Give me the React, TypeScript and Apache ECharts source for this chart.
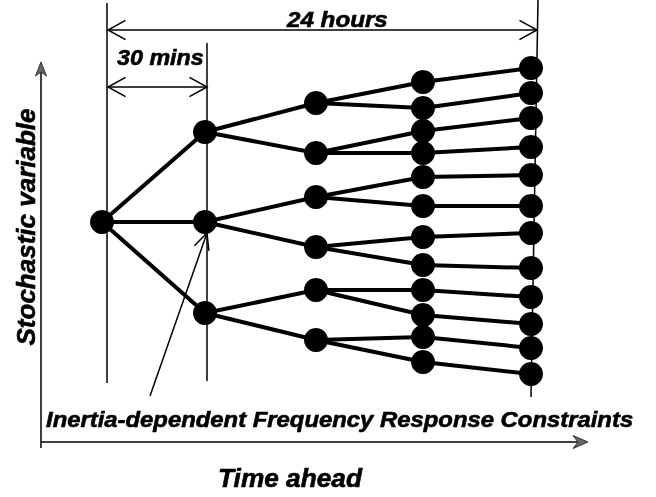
import React, { useEffect, useRef } from "react";
import * as echarts from "echarts";

// Time position of each decision stage (arbitrary time units)
const stageTimes = [0, 103, 214, 321, 429];
// Stochastic variable value at each node, per stage
const stage0 = [0];
const stage1 = [90, 0, -91];
const stage2 = [119, 69, 25, -25, -68, -118];
const stage3 = [140, 114, 91, 69, 45, 16, -15, -43, -68, -93, -115, -140];
const stage4 = [154, 129, 104, 75, 47, 16, -11, -46, -75, -102, -126, -152];
// Parent index (in previous stage) of each node
const parents1 = [0, 0, 0];
const parents2 = [0, 0, 1, 1, 2, 2];
const parents3 = [0, 0, 1, 1, 2, 2, 3, 3, 4, 4, 5, 5];
const parents4 = [0, 1, 2, 3, 4, 5, 6, 7, 8, 9, 10, 11];

const stages = [stage0, stage1, stage2, stage3, stage4];
const parents = [[], parents1, parents2, parents3, parents4];

const FONT = "'Liberation Sans', Arial, Helvetica, sans-serif";

function vArrowHead(tipX: number, tipY: number, fromX: number, fromY: number, len: number, ang: number) {
  const dx = fromX - tipX;
  const dy = fromY - tipY;
  const l = Math.hypot(dx, dy);
  const bx = dx / l;
  const by = dy / l;
  const c = Math.cos(ang);
  const s = Math.sin(ang);
  const w1 = [tipX + len * (bx * c - by * s), tipY + len * (bx * s + by * c)];
  const w2 = [tipX + len * (bx * c + by * s), tipY + len * (-bx * s + by * c)];
  return [w1, [tipX, tipY], w2];
}

export default function App() {
  const ref = useRef<HTMLDivElement>(null);
  useEffect(() => {
    if (!ref.current) return;
    const chart = echarts.init(ref.current, null, { renderer: "svg" });

    const nodes: number[][] = [];
    const edges: { coords: number[][] }[] = [];
    stages.forEach((vals, si) => {
      vals.forEach((v, i) => {
        nodes.push([stageTimes[si], v]);
        if (si > 0) {
          const p = stages[si - 1][parents[si][i]];
          edges.push({ coords: [[stageTimes[si - 1], p], [stageTimes[si], v]] });
        }
      });
    });

    const thin = { stroke: "#000", lineWidth: 1.5, fill: "none" };
    const line = (x1: number, y1: number, x2: number, y2: number) => ({
      type: "line",
      shape: { x1, y1, x2, y2 },
      style: thin,
      silent: true,
    });
    const poly = (pts: number[][]) => ({ type: "polyline", shape: { points: pts }, style: thin, silent: true });
    const text = (t: string, x: number, y: number, size: number, opts: any = {}) => ({
      type: "text",
      x,
      y,
      rotation: opts.rotation || 0,
      scaleX: opts.scaleX || 1,
      scaleY: opts.scaleY || 1,
      silent: true,
      style: {
        text: t,
        x: 0,
        y: 0,
        fill: "#000",
        stroke: "#000",
        lineWidth: 0.6,
        font: `italic bold ${size}px ${FONT}`,
        align: opts.align || "left",
        verticalAlign: "middle",
      },
    });

    chart.setOption({
      animation: false,
      grid: { left: 0, top: 0, right: 0, bottom: 0 },
      xAxis: { type: "value", min: -102, max: 554, show: false },
      yAxis: { type: "value", min: -275, max: 222, show: false },
      series: [
        {
          type: "lines",
          coordinateSystem: "cartesian2d",
          silent: true,
          lineStyle: { color: "#000", width: 4, opacity: 1 },
          data: edges,
          z: 2,
        },
        {
          type: "scatter",
          silent: true,
          symbol: "circle",
          symbolSize: 24,
          itemStyle: { color: "#000", opacity: 1 },
          data: nodes,
          z: 3,
        },
      ],
      graphic: [
        // stage boundary guide lines
        line(107, 3, 107, 383),
        line(207, 43, 207, 381),
        line(538, 0, 531, 397),
        // 24 hours dimension arrow
        line(108, 30, 537, 30),
        poly(vArrowHead(108, 30, 200, 30, 20, 0.5)),
        poly(vArrowHead(537, 30, 400, 30, 20, 0.5)),
        // 30 mins dimension arrow
        line(108, 87, 207, 87),
        poly(vArrowHead(108, 87, 200, 87, 20, 0.5)),
        poly(vArrowHead(207, 87, 120, 87, 20, 0.5)),
        // annotation arrow
        line(150, 396, 207, 233),
        poly(vArrowHead(207, 233, 150, 396, 18, 0.44)),
        // axes
        line(41, 448, 41, 70),
        {
          type: "polygon",
          shape: { points: [[41, 62], [46.5, 76], [41, 72], [35.5, 76]] },
          style: { fill: "#666", stroke: "#333", lineWidth: 1 },
          silent: true,
        },
        line(41, 442, 580, 442),
        {
          type: "polygon",
          shape: { points: [[588, 442], [573, 435.5], [578, 442], [573, 448.5]] },
          style: { fill: "#666", stroke: "#333", lineWidth: 1 },
          silent: true,
        },
        // texts
        text("24 hours", 287, 19.5, 22, { scaleX: 1.1 }),
        text("30 mins", 117, 57.5, 22, { scaleX: 1.06 }),
        text("Stochastic variable", 26, 227, 26, { rotation: Math.PI / 2, align: "center" }),
        text("Inertia-dependent Frequency Response Constraints", 46, 419.5, 22, { scaleX: 1.085 }),
        text("Time ahead", 290, 478.5, 25, { align: "center", scaleX: 1.05 }),
      ],
    });
    return () => chart.dispose();
  }, []);
  return <div ref={ref} style={{ position: "fixed", left: 0, top: 0, width: 656, height: 497 }} />;
}
